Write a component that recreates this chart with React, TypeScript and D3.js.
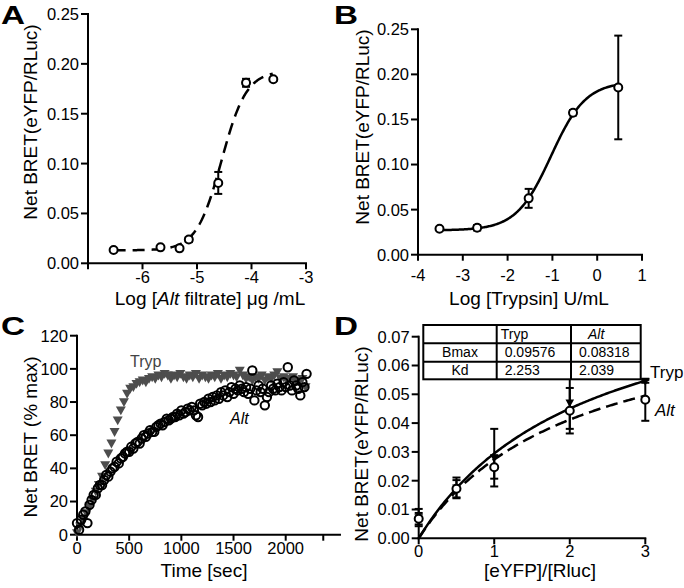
import React from 'react';
import * as d3 from 'd3';

const FONT = "'Liberation Sans', Arial, Helvetica, sans-serif";
const TICK_FS = 16.5;
const TITLE_FS = 19;

// ---------- Panel A : Alt filtrate dose response ----------
const aLogConc = [-6.53, -5.67, -5.32, -5.15, -4.61, -4.1, -3.6];
const aBret = [0.0134, 0.016, 0.015, 0.0238, 0.0806, 0.181, 0.1845];
const aSem = [0.0008, 0.0012, 0.0012, 0.0025, 0.011, 0.004, 0.0015];
const aFitBottom = 0.013;
const aFitTop = 0.193;
const aFitLogEC50 = -4.55;
const aFitHill = 1.9;
const aYTicks = [0, 0.05, 0.1, 0.15, 0.2, 0.25];
const aXTicks = [-7, -6, -5, -4, -3];
const aXTickLabels = ['', '-6', '-5', '-4', '-3'];

// ---------- Panel B : Trypsin dose response ----------
const bLogConc = [-3.52, -2.68, -1.53, -0.54, 0.47];
const bBret = [0.0288, 0.0299, 0.0625, 0.1575, 0.1855];
const bSem = [0.001, 0.003, 0.0105, 0.003, 0.0575];
const bFitBottom = 0.027;
const bFitTop = 0.192;
const bFitLogEC50 = -1.03;
const bFitHill = 1.12;
const bYTicks = [0, 0.05, 0.1, 0.15, 0.2, 0.25];
const bXTicks = [-4, -3, -2, -1, 0, 1];
const bXTickLabels = ['-4', '-3', '-2', '-1', '0', '1'];

// ---------- Panel C : kinetics ----------
const cTrypTime = [
  0, 30, 60, 90, 120, 150, 180, 210, 240, 270,
  300, 330, 360, 390, 420, 450, 480, 510, 540, 570,
  600, 630, 660, 690, 720, 750, 780, 810, 840, 870,
  900, 930, 960, 990, 1020, 1050, 1080, 1110, 1140, 1170,
  1200, 1230, 1260, 1290, 1320, 1350, 1380, 1410, 1440, 1470,
  1500, 1530, 1560, 1590, 1620, 1650, 1680, 1710, 1740, 1770,
  1800, 1830, 1860, 1890, 1920, 1950, 1980, 2010, 2040, 2070,
  2100, 2130, 2160, 2190,
];
const cTrypValue = [
  1, 5, 9, 13, 17, 21, 26, 30, 35, 42,
  49, 55, 62, 69, 75, 80, 85, 88, 89, 91,
  92, 93, 92, 94, 95, 94, 96, 95, 97, 96,
  94, 96, 95, 97, 95, 94, 96, 95, 97, 94,
  96, 95, 94, 96, 95, 97, 94, 96, 95, 97,
  96, 95, 99, 96, 94, 95, 93, 95, 94, 96,
  93, 95, 94, 96, 98, 94, 95, 93, 94, 95,
  93, 92, 94, 89,
];
const cAltTime = [
  0, 20, 40, 60, 80, 100, 120, 140, 160, 180,
  200, 220, 240, 260, 280, 300, 320, 340, 360, 380,
  400, 420, 440, 460, 480, 500, 520, 540, 560, 580,
  600, 620, 640, 660, 680, 700, 720, 740, 760, 780,
  800, 820, 840, 860, 880, 900, 920, 940, 960, 980,
  1000, 1020, 1040, 1060, 1080, 1100, 1120, 1140, 1160, 1180,
  1200, 1220, 1240, 1260, 1280, 1300, 1320, 1340, 1360, 1380,
  1400, 1420, 1440, 1460, 1480, 1500, 1520, 1540, 1560, 1580,
  1600, 1620, 1640, 1660, 1680, 1700, 1720, 1740, 1760, 1780,
  1800, 1820, 1840, 1860, 1880, 1900, 1920, 1940, 1960, 1980,
  2000, 2020, 2040, 2060, 2080, 2100, 2120, 2140, 2160, 2180,
  2200,
];
const cAltValue = [
  7, 3, 9, 12, 14, 7, 18, 21, 24, 24,
  28, 30, 30, 33, 36, 35, 38, 40, 41, 44,
  43, 46, 47, 49, 50, 50, 53, 52, 55, 56,
  55, 58, 60, 59, 61, 63, 62, 62, 65, 66,
  67, 66, 68, 70, 69, 70, 71, 71, 73, 72,
  75, 73, 74, 76, 75, 77, 75, 72, 71, 79,
  78, 80, 79, 82, 80, 83, 81, 84, 82, 86,
  84, 87, 83, 86, 89, 85, 88, 87, 90, 88,
  86, 89, 85, 88, 99, 81, 87, 90, 86, 88,
  78, 83, 86, 90, 88, 87, 91, 89, 87, 92,
  89, 101, 90, 87, 93, 90, 88, 84, 92, 89,
  97,
];
const cYTicks = [0, 20, 40, 60, 80, 100, 120];
const cXTicks = [0, 500, 1000, 1500, 2000, 2360];
const cXTickLabels = ['0', '500', '1000', '1500', '2000', ''];
const cXAxisEnd = 2520;

// ---------- Panel D : saturation ----------
const dRatio = [0, 0.5, 1, 2, 3];
const dTrypBret = [0.0072, 0.0175, 0.028, 0.047, 0.0545];
const dTrypSem = [0.003, 0.0036, 0.01, 0.009, 0.0005];
const dAltBret = [0.0068, 0.0172, 0.0247, 0.0443, 0.0481];
const dAltSem = [0.002, 0.003, 0.004, 0.0079, 0.0073];
const dSeriesNames = ['Tryp', 'Alt'];
const dBmax = [0.09576, 0.08318];
const dKd = [2.253, 2.039];
const dYTicks = [0, 0.01, 0.02, 0.03, 0.04, 0.05, 0.06, 0.07];
const dXTicks = [0, 1, 2, 3];

const logistic = (x: number, b: number, t: number, ec: number, h: number) =>
  b + (t - b) / (1 + Math.pow(10, (ec - x) * h));
const hyperbola = (x: number, bmax: number, kd: number) => (bmax * x) / (kd + x);

type Scale = d3.ScaleLinear<number, number>;

function YAxis({ y, x, ticks, fmt }: { y: Scale; x: number; ticks: number[]; fmt: (v: number) => string }) {
  const [r0, r1] = y.range();
  return (
    <g>
      <line x1={x} x2={x} y1={r0 + 1} y2={r1 - 1} stroke="#000" strokeWidth={2} />
      {ticks.map((t) => (
        <g key={t}>
          <line x1={x - 7} x2={x} y1={y(t)} y2={y(t)} stroke="#000" strokeWidth={2} />
          <text x={x - 9} y={y(t)} dy="0.36em" textAnchor="end" fontSize={TICK_FS}>
            {fmt(t)}
          </text>
        </g>
      ))}
    </g>
  );
}

function XAxis({
  x, y, ticks, labels, end, labelY,
}: { x: Scale; y: number; ticks: number[]; labels: string[]; end?: number; labelY: number }) {
  const [d0, d1] = x.domain();
  return (
    <g>
      <line x1={x(d0) - 1} x2={x(end ?? d1) + 1} y1={y} y2={y} stroke="#000" strokeWidth={2} />
      {ticks.map((t, i) => (
        <g key={t}>
          <line x1={x(t)} x2={x(t)} y1={y} y2={y + 6} stroke="#000" strokeWidth={2} />
          <text x={x(t)} y={labelY} textAnchor="middle" fontSize={TICK_FS}>
            {labels[i]}
          </text>
        </g>
      ))}
    </g>
  );
}

function ErrorBars({ xs, ys, es, x, y }: { xs: number[]; ys: number[]; es: number[]; x: Scale; y: Scale }) {
  return (
    <g stroke="#000" strokeWidth={2}>
      {xs.map((xv, i) => {
        const px = x(xv);
        const top = y(ys[i] + es[i]);
        const bot = y(ys[i] - es[i]);
        return (
          <g key={i}>
            <line x1={px} x2={px} y1={top} y2={bot} />
            <line x1={px - 4} x2={px + 4} y1={top} y2={top} />
            <line x1={px - 4} x2={px + 4} y1={bot} y2={bot} />
          </g>
        );
      })}
    </g>
  );
}

const triPath = (px: number, py: number, s: number) =>
  `M${px - s},${py - s * 0.78}L${px + s},${py - s * 0.78}L${px},${py + s}Z`;

function PanelLetter({ x, y, text }: { x: number; y: number; text: string }) {
  return (
    <text x={x} y={y} fontSize={26} fontWeight="bold" textLength={24} lengthAdjust="spacingAndGlyphs">
      {text}
    </text>
  );
}

export default function App() {
  // Panel A scales
  const ax = d3.scaleLinear().domain([-7, -3]).range([88, 306]);
  const ay = d3.scaleLinear().domain([0, 0.25]).range([263.3, 14]);
  // Panel B scales
  const bx = d3.scaleLinear().domain([-4, 1]).range([418, 642]);
  const by = d3.scaleLinear().domain([0, 0.25]).range([254.7, 29.3]);
  // Panel C scales
  const cx = d3.scaleLinear().domain([0, 2000]).range([77, 285.7]);
  const cy = d3.scaleLinear().domain([0, 120]).range([534.7, 335.7]);
  // Panel D scales
  const dx = d3.scaleLinear().domain([0, 3]).range([418.7, 645.3]);
  const dy = d3.scaleLinear().domain([0, 0.07]).range([538.3, 336.7]);

  const fmt2 = d3.format('.2f');
  const fmt0 = d3.format('d');

  const aLine = d3
    .line<number>()
    .x((v) => ax(v))
    .y((v) => ay(logistic(v, aFitBottom, aFitTop, aFitLogEC50, aFitHill)));
  const aSamples = d3.range(aLogConc[0], aLogConc[aLogConc.length - 1] + 0.001, 0.02);

  const bLine = d3
    .line<number>()
    .x((v) => bx(v))
    .y((v) => by(logistic(v, bFitBottom, bFitTop, bFitLogEC50, bFitHill)));
  const bSamples = d3.range(bLogConc[0], bLogConc[bLogConc.length - 1] + 0.001, 0.02);

  const dSamples = d3.range(0, 3.0001, 0.02);
  const dLine = (k: number) =>
    d3
      .line<number>()
      .x((v) => dx(v))
      .y((v) => dy(hyperbola(v, dBmax[k], dKd[k])))(dSamples) as string;

  // table geometry
  const tCols = [423.3, 496.7, 571, 640.7];
  const tRows = [325, 343.3, 361.7, 379.3];
  const tableRows = [
    ['Bmax', d3.format('.5f')(dBmax[0]), d3.format('.5f')(dBmax[1])],
    ['Kd', d3.format('.3f')(dKd[0]), d3.format('.3f')(dKd[1])],
  ];

  return (
    <svg
      width={684}
      height={588}
      style={{ position: 'absolute', left: 0, top: 0, fontFamily: FONT }}
      fontFamily={FONT}
    >
      <rect width={684} height={588} fill="#fff" />

      {/* ================= Panel A ================= */}
      <PanelLetter x={1} y={24} text="A" />
      <YAxis y={ay} x={ax(-7)} ticks={aYTicks} fmt={fmt2} />
      <XAxis x={ax} y={ay(0)} ticks={aXTicks} labels={aXTickLabels} labelY={283} />
      <text transform="translate(37,122) rotate(-90)" textAnchor="middle" fontSize={TITLE_FS}>
        Net BRET(eYFP/RLuc)
      </text>
      <text x={210} y={305} textAnchor="middle" fontSize={TITLE_FS}>
        Log [<tspan fontStyle="italic">Alt</tspan> filtrate] μg /mL
      </text>
      <path d={aLine(aSamples) as string} fill="none" stroke="#000" strokeWidth={2.5} strokeDasharray="12 7" />
      <ErrorBars xs={aLogConc} ys={aBret} es={aSem} x={ax} y={ay} />
      {aLogConc.map((v, i) => (
        <circle key={i} cx={ax(v)} cy={ay(aBret[i])} r={4} fill="#fff" stroke="#000" strokeWidth={2} />
      ))}

      {/* ================= Panel B ================= */}
      <PanelLetter x={334} y={24} text="B" />
      <YAxis y={by} x={bx(-4)} ticks={bYTicks} fmt={fmt2} />
      <XAxis x={bx} y={by(0)} ticks={bXTicks} labels={bXTickLabels} labelY={281} />
      <text transform="translate(369,127) rotate(-90)" textAnchor="middle" fontSize={TITLE_FS}>
        Net BRET(eYFP/RLuc)
      </text>
      <text x={529} y={305} textAnchor="middle" fontSize={TITLE_FS}>
        Log [Trypsin]  U/mL
      </text>
      <path d={bLine(bSamples) as string} fill="none" stroke="#000" strokeWidth={2.5} />
      <ErrorBars xs={bLogConc} ys={bBret} es={bSem} x={bx} y={by} />
      {bLogConc.map((v, i) => (
        <circle key={i} cx={bx(v)} cy={by(bBret[i])} r={4} fill="#fff" stroke="#000" strokeWidth={2} />
      ))}

      {/* ================= Panel C ================= */}
      <PanelLetter x={1} y={335} text="C" />
      <YAxis y={cy} x={cx(0)} ticks={cYTicks} fmt={fmt0} />
      <XAxis x={cx} y={cy(0)} ticks={cXTicks} labels={cXTickLabels} end={cXAxisEnd} labelY={554} />
      <text transform="translate(37,437) rotate(-90)" textAnchor="middle" fontSize={TITLE_FS}>
        Net BRET (% max)
      </text>
      <text x={204} y={577} textAnchor="middle" fontSize={TITLE_FS}>
        Time [sec]
      </text>
      {cTrypTime.map((t, i) => (
        <path key={i} d={triPath(cx(t), cy(cTrypValue[i]), 5)} fill="#4d4d4d" />
      ))}
      {cAltTime.map((t, i) => (
        <circle key={i} cx={cx(t)} cy={cy(cAltValue[i])} r={4.2} fill="none" stroke="#000" strokeWidth={2} />
      ))}
      <text x={130} y={367} fontSize={16} fill="#444">
        Tryp
      </text>
      <text x={230} y={424} fontSize={16} fontStyle="italic">
        Alt
      </text>

      {/* ================= Panel D ================= */}
      <PanelLetter x={334} y={335} text="D" />
      <YAxis y={dy} x={dx(0)} ticks={dYTicks} fmt={fmt2} />
      <XAxis x={dx} y={dy(0)} ticks={dXTicks} labels={dXTicks.map(String)} labelY={557} />
      <text transform="translate(368,444) rotate(-90)" textAnchor="middle" fontSize={TITLE_FS}>
        Net BRET(eYFP/RLuc)
      </text>
      <text x={540} y={577} textAnchor="middle" fontSize={TITLE_FS}>
        [eYFP]/[Rluc]
      </text>
      <path d={dLine(0)} fill="none" stroke="#000" strokeWidth={2.5} />
      <path d={dLine(1)} fill="none" stroke="#000" strokeWidth={2.5} strokeDasharray="12 6" />
      <ErrorBars xs={dRatio} ys={dTrypBret} es={dTrypSem} x={dx} y={dy} />
      <ErrorBars xs={dRatio} ys={dAltBret} es={dAltSem} x={dx} y={dy} />
      {dRatio.map((v, i) => (
        <path key={'t' + i} d={triPath(dx(v), dy(dTrypBret[i]), 4.3)} fill="#000" />
      ))}
      {dRatio.map((v, i) => (
        <circle key={'c' + i} cx={dx(v)} cy={dy(dAltBret[i])} r={4} fill="#fff" stroke="#000" strokeWidth={2} />
      ))}
      <text x={650} y={378} fontSize={17}>
        {dSeriesNames[0]}
      </text>
      <text x={655} y={416} fontSize={17} fontStyle="italic">
        {dSeriesNames[1]}
      </text>

      {/* fit table */}
      <g stroke="#000" strokeWidth={2} fill="#fff">
        <rect x={tCols[0]} y={tRows[0]} width={tCols[3] - tCols[0]} height={tRows[3] - tRows[0]} />
        {tCols.slice(1, 3).map((c) => (
          <line key={c} x1={c} x2={c} y1={tRows[0]} y2={tRows[3]} />
        ))}
        {tRows.slice(1, 3).map((r) => (
          <line key={r} x1={tCols[0]} x2={tCols[3]} y1={r} y2={r} />
        ))}
      </g>
      <g fontSize={14}>
        <text x={tCols[1] + 4} y={tRows[1] - 4.5}>
          {dSeriesNames[0]}
        </text>
        <text x={tCols[2] + 17} y={tRows[1] - 4.5} fontStyle="italic">
          {dSeriesNames[1]}
        </text>
        {tableRows.map((row, ri) => (
          <g key={ri}>
            <text x={(tCols[0] + tCols[1]) / 2} y={tRows[ri + 2] - 4.5} textAnchor="middle">
              {row[0]}
            </text>
            <text x={tCols[1] + 8} y={tRows[ri + 2] - 4.5}>
              {row[1]}
            </text>
            <text x={tCols[2] + 8} y={tRows[ri + 2] - 4.5}>
              {row[2]}
            </text>
          </g>
        ))}
      </g>
    </svg>
  );
}
